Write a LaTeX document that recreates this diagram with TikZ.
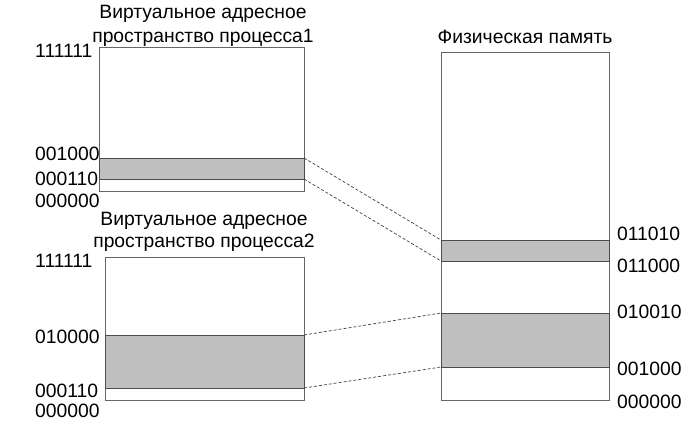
\documentclass[tikz,border=0pt]{standalone}
\usepackage{fontspec}
\setmainfont{Liberation Sans}
\begin{document}
\begin{tikzpicture}[x=1pt,y=-1pt,
  membox/.style={draw=black!60, line width=1pt, inner sep=0pt, outer sep=0pt, anchor=north west, fill=white},
  band/.style={draw=black!70, line width=1pt, inner sep=0pt, outer sep=0pt, anchor=north west, fill=black!25},
  addr/.style={inner sep=0pt, font=\fontsize{19.3}{22}\selectfont},
  ttl/.style={inner sep=0pt, anchor=base, font=\fontsize{19.3}{22}\selectfont},
  link/.style={draw=black!75, dash pattern=on 3pt off 2pt, line width=0.7pt}]
\useasboundingbox (0,0) rectangle (700,434);
% virtual space 1
\node[membox, minimum width=205, minimum height=144] (v1) at (99,47) {};
\node[band, minimum width=205, minimum height=21] (b1) at (99,158) {};
% virtual space 2
\node[membox, minimum width=199, minimum height=143] (v2) at (105,257) {};
\node[band, minimum width=199, minimum height=53] (b2) at (105,335) {};
% physical memory
\node[membox, minimum width=168, minimum height=348] (ph) at (441,52) {};
\node[band, minimum width=168, minimum height=21] (p1) at (441,240) {};
\node[band, minimum width=168, minimum height=54] (p2) at (441,313) {};
% titles
\node[ttl] (t1a) at (203,18.5) {Виртуальное адресное};
\node[ttl] (t1b) at (203,42) {пространство процесса1};
\node[ttl] (t2a) at (204,225) {Виртуальное адресное};
\node[ttl] (t2b) at (204,247.5) {пространство процесса2};
\node[ttl] (t3) at (525,43) {Физическая память};
% left addresses
\node[addr, anchor=base west] (a1) at (35,57) {111111};
\node[addr, anchor=base west] (a2) at (35,160) {001000};
\node[addr, anchor=base west] (a3) at (35,185) {000110};
\node[addr, anchor=base west] (a4) at (35,207) {000000};
\node[addr, anchor=base west] (a5) at (35,267) {111111};
\node[addr, anchor=base west] (a6) at (35,343) {010000};
\node[addr, anchor=base west] (a7) at (35,397) {000110};
\node[addr, anchor=base west] (a8) at (35,417) {000000};
% right addresses
\node[addr, anchor=base west] (r1) at (617,240) {011010};
\node[addr, anchor=base west] (r2) at (617,272) {011000};
\node[addr, anchor=base west] (r3) at (617,318) {010010};
\node[addr, anchor=base west] (r4) at (617,375) {001000};
\node[addr, anchor=base west] (r5) at (617,408) {000000};
% mapping lines
\draw[link] (b1.north east) -- (p1.north west);
\draw[link] (b1.south east) -- (p1.south west);
\draw[link] (b2.north east) -- (p2.north west);
\draw[link] (b2.south east) -- (p2.south west);
\end{tikzpicture}
\end{document}
